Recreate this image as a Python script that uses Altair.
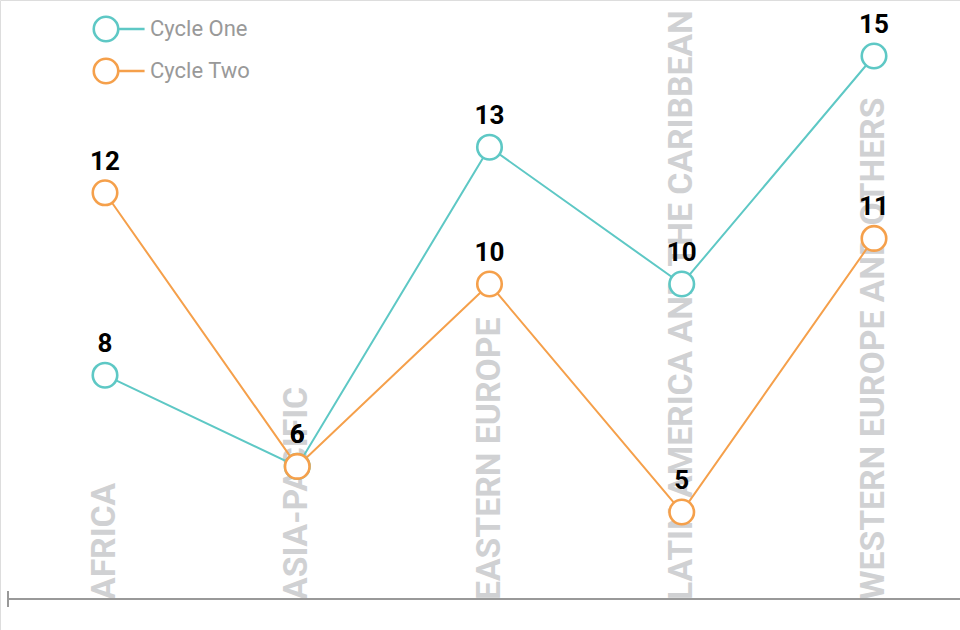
import altair as alt
import pandas as pd

regions = ["AFRICA", "ASIA-PACIFIC", "EASTERN EUROPE",
           "LATIN AMERICA AND THE CARIBBEAN", "WESTERN EUROPE AND OTHERS"]
cycle_one = [8, 6, 13, 10, 15]
cycle_two = [12, 6, 10, 5, 11]
series_names = ["Cycle One", "Cycle Two"]
series_colors = ["#5ec8c5", "#f5a04b"]

rows = []
for name, vals in zip(series_names, [cycle_one, cycle_two]):
    for r, v in zip(regions, vals):
        rows.append({"region": r, "value": v, "cycle": name})
df = pd.DataFrame(rows)
cats = pd.DataFrame({"region": regions})

FONT = "Roboto"

x = alt.X("region:N", sort=regions, axis=None,
          scale=alt.Scale(type="point", range=[105, 874], padding=0))
y = alt.Y("value:Q", axis=None,
          scale=alt.Scale(domain=[5, 15], range=[512, 56], zero=False))

circle_path = "M-1,0A1,1,0,1,1,1,0A1,1,0,1,1,-1,0ZM1,0L3.15,0"
legend = alt.Legend(
    title=None, orient="none", legendX=92, legendY=15,
    symbolType=circle_path, symbolSize=600, symbolStrokeWidth=2.6,
    symbolFillColor="white", labelFont=FONT, labelFontSize=22,
    labelColor="#999999", labelOffset=30, rowPadding=6, padding=0)
color = alt.Color("cycle:N", scale=alt.Scale(domain=series_names, range=series_colors),
                  legend=legend)

cat_labels = alt.Chart(cats).mark_text(
    angle=270, align="left", baseline="middle", font=FONT,
    fontSize=33.7, fontWeight="bold", color="#d0d1d3"
).encode(x=x, y=alt.value(600), text="region:N")

axis_line = alt.Chart(cats).mark_rule(color="#999999", strokeWidth=2).encode(
    x=alt.value(8), x2=alt.value(960), y=alt.value(599))
axis_tick = alt.Chart(cats).mark_rule(color="#999999", strokeWidth=2).encode(
    x=alt.value(8), y=alt.value(591), y2=alt.value(607))

lines = alt.Chart(df).mark_line(strokeWidth=2).encode(
    x=x, y=y, color=color, detail="cycle:N")

points = alt.Chart(df).mark_point(
    filled=False, size=600, strokeWidth=2.6, fill="white", fillOpacity=1, opacity=1
).encode(x=x, y=y, color=color)

labels = alt.Chart(df).mark_text(
    font=FONT, fontSize=26, fontWeight="bold", color="#000000",
    baseline="alphabetic", dy=-23
).encode(x=x, y=y, text="value:Q")

chart = alt.layer(cat_labels, axis_line, axis_tick, lines, points, labels).properties(
    width=960, height=630, padding=0,
    autosize=alt.AutoSizeParams(type="none")
).configure_view(stroke=None).configure(background="white")

chart.save("out.html", embed_options={"renderer": "svg", "actions": False})
